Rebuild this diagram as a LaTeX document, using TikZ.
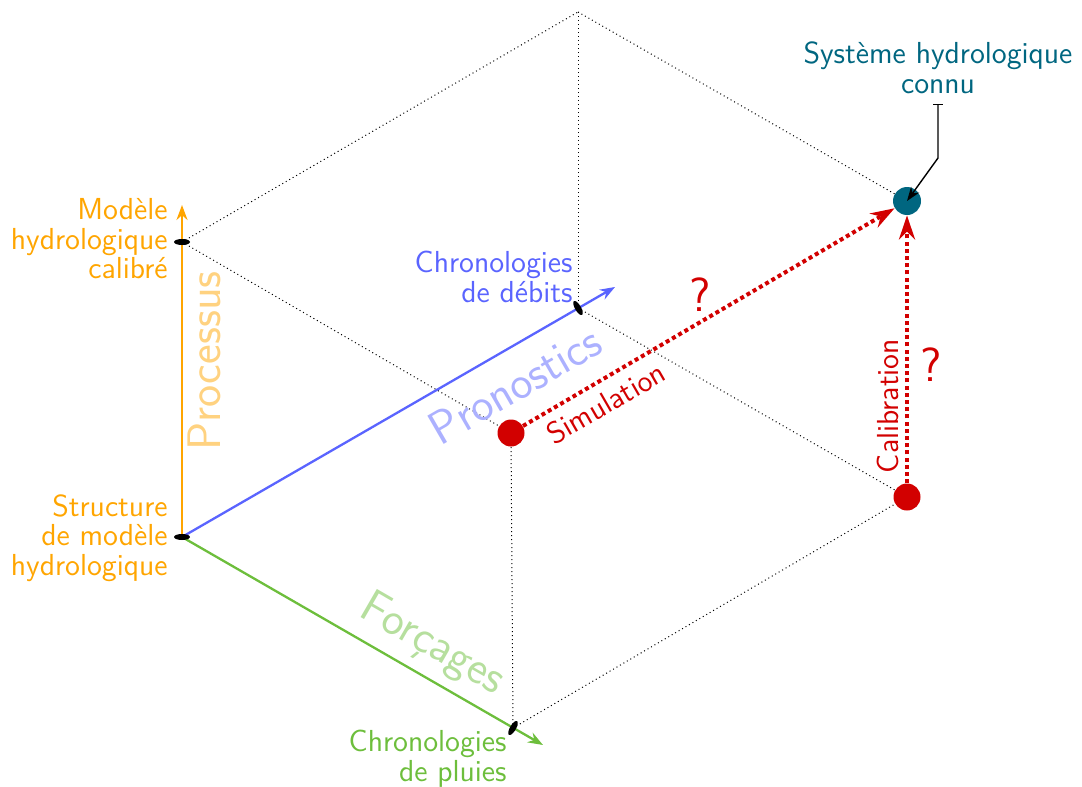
\documentclass[tikz,border=0pt]{standalone}
\usepackage{fontspec}
\usetikzlibrary{arrows.meta,shapes.geometric,calc}
\definecolor{cOr}{RGB}{255,165,0}
\definecolor{cBl}{RGB}{90,100,255}
\definecolor{cGr}{RGB}{109,190,60}
\definecolor{cTe}{RGB}{0,102,128}
\definecolor{cRd}{RGB}{210,0,0}
\begin{document}
\begin{tikzpicture}[x=0.5pt,y=-0.5pt,
  axisarrow/.style={line width=1.15pt,-{Stealth[length=7.5pt,width=5.5pt]}},
  cubeedge/.style={line width=0.5pt,dash pattern=on 0.5pt off 1.5pt},
  tickmark/.style={ellipse,fill=black,minimum width=8pt,minimum height=3pt,inner sep=0pt},
  lbl/.style={inner sep=0pt,font=\sffamily\fontsize{15.2}{14.8}\selectfont},
  biglbl/.style={inner sep=0pt,font=\sffamily\fontsize{23.5}{26}\selectfont},
  qmark/.style={inner sep=0pt,text=cRd,font=\sffamily\fontsize{24}{26}\selectfont},
  dot/.style={circle,inner sep=0pt,minimum size=13.5pt},
  redarrow/.style={cRd,line width=2pt,dash pattern=on 2pt off 1.6pt,-{Stealth[length=12pt,width=8pt]}},
  pinarrow/.style={line width=0.7pt,{Bar[width=5pt]}-{Stealth[length=7pt,width=5pt]}}
]
\useasboundingbox (0,0) rectangle (1082,787);
% cube vertices
\coordinate (O) at (182,537);
\coordinate (Z) at (182,242);
\coordinate (X) at (578,308);
\coordinate (Y) at (513,728);
\coordinate (XZ) at (578,12);
\coordinate (YZ) at (511,433);
\coordinate (XY) at (907,497);
\coordinate (XYZ) at (907,201);
\coordinate (Ztip) at (182,205);
\coordinate (Xtip) at (615,287);
\coordinate (Ytip) at (543,745);
% dotted cube edges
\draw[cubeedge] (Z) -- (XZ);
\draw[cubeedge] (XZ) -- (XYZ);
\draw[cubeedge] (XZ) -- (X);
\draw[cubeedge] (Z) -- (YZ);
\draw[cubeedge] (X) -- (XY);
\draw[cubeedge] (Y) -- (XY);
\draw[cubeedge] (Y) -- (YZ);
% axes
\draw[axisarrow,cOr] (O) -- (Ztip);
\draw[axisarrow,cBl] (O) -- (Xtip);
\draw[axisarrow,cGr] (O) -- (Ytip);
% tick marks
\node[tickmark] (tO) at (O) {};
\node[tickmark] (tZ) at (Z) {};
\node[tickmark,rotate=-60] (tX) at (X) {};
\node[tickmark,rotate=60] (tY) at (Y) {};
% axis labels
\node[lbl,text=cOr,align=right,anchor=east] (lZ) at (168,239) {Modèle\\hydrologique\\calibré};
\node[lbl,text=cOr,align=right,anchor=east] (lO) at (168,538) {Structure\\de modèle\\hydrologique};
\node[lbl,text=cBl,align=right,anchor=east] (lX) at (573,277) {Chronologies\\de débits};
\node[lbl,text=cGr,align=right,anchor=north east] (lY) at (507,730) {Chronologies\\de pluies};
% big axis names
\node[biglbl,text=cOr!50,rotate=90] (proc) at (204,361) {Processus};
\node[biglbl,text=cBl!50,rotate=30] (pron) at (515,385) {Pronostics};
\node[biglbl,text=cGr!50,rotate=-30] (forc) at (432,645) {Forçages};
% dots
\node[dot,fill=cRd] (dYZ) at (YZ) {};
\node[dot,fill=cRd] (dXY) at (XY) {};
\node[dot,fill=cTe,minimum size=14pt] (dXYZ) at (XYZ) {};
% red arrows
\draw[redarrow] (dYZ) -- (dXYZ);
\draw[redarrow] (dXY) -- (dXYZ);
\node[lbl,text=cRd,rotate=30] (sim) at (606,403) {Simulation};
\node[lbl,text=cRd,rotate=90] (cal) at (888,406) {Calibration};
\node[qmark] (q1) at (700,295) {?};
\node[qmark] (q2) at (931,365) {?};
% known system label and pin
\node[lbl,text=cTe,align=center,anchor=south] (lT) at (938,94) {Système hydrologique\\connu};
\coordinate (pinTop) at (938,104);
\coordinate (pinBend) at (938,158);
\draw[pinarrow] (pinTop) -- (pinBend) -- (dXYZ.center);
\end{tikzpicture}
\end{document}
